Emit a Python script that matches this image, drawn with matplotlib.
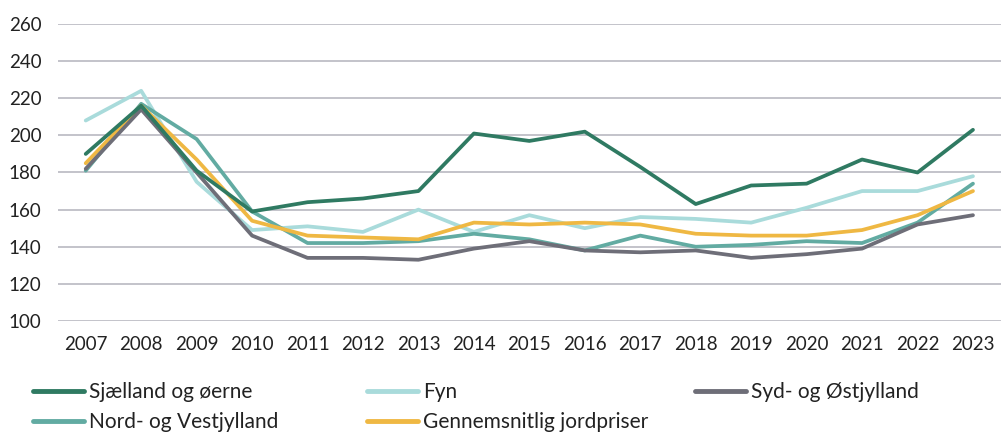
import matplotlib
matplotlib.use("Agg")
import matplotlib.pyplot as plt
import numpy as np

years = [str(y) for y in range(2007, 2024)]
sjaelland = [190, 216, 181, 159, 164, 166, 170, 201, 197, 202, 183, 163, 173, 174, 187, 180, 203]
fyn = [208, 224, 175, 149, 151, 148, 160, 148, 157, 150, 156, 155, 153, 161, 170, 170, 178]
syd = [182, 214, 180, 146, 134, 134, 133, 139, 143, 138, 137, 138, 134, 136, 139, 152, 157]
nord = [181, 217, 198, 159, 142, 142, 143, 147, 144, 138, 146, 140, 141, 143, 142, 153, 174]
gennemsnit = [185, 216, 187, 154, 146, 145, 144, 153, 152, 153, 152, 147, 146, 146, 149, 157, 170]

labels = ["Sjælland og øerne", "Fyn", "Syd- og Østjylland", "Nord- og Vestjylland", "Gennemsnitlig jordpriser"]
colors = ["#2f7a62", "#a9dbdb", "#6e6e78", "#62aba2", "#efb843"]
series = [sjaelland, fyn, syd, nord, gennemsnit]
yticks = [100, 120, 140, 160, 180, 200, 220, 240, 260]

plt.rcParams['font.family'] = ['Lato', 'DejaVu Sans']

fig = plt.figure(figsize=(10.06, 4.36), dpi=100)
ax = fig.add_axes([58 / 1006, 1 - 321 / 436, (1000.7 - 58) / 1006, (321 - 24) / 436])

x = np.arange(len(years))
order = [1, 3, 4, 2, 0]
handles = {}
for i in order:
    ln, = ax.plot(x, series[i], color=colors[i], lw=2.7, solid_capstyle='round', solid_joinstyle='round', zorder=3)
    handles[i] = ln

ax.set_xlim(-0.5, len(years) - 0.5)
ax.set_ylim(100, 260)
ax.set_yticks(yticks)
ax.set_xticks(x)
ax.set_xticklabels(years)
ax.grid(axis='y', color='#c3c3ca', lw=1.4)
ax.set_axisbelow(True)
for s in ax.spines.values():
    s.set_visible(False)
ax.tick_params(axis='both', length=0, labelsize=13.5, colors='#222222')
ax.tick_params(axis='y', pad=12)
ax.tick_params(axis='x', pad=11)

cols = [[0, 3], [1, 4], [2]]
xpos = [33, 367, 695]
for c, xp in zip(cols, xpos):
    leg = fig.legend([handles[i] for i in c], [labels[i] for i in c],
                     loc='upper left', bbox_to_anchor=(xp / 1006, 1 - 382 / 436),
                     frameon=False, fontsize=15, handlelength=2.45, handletextpad=0.25,
                     borderpad=0, borderaxespad=0, labelspacing=0.5)
    for t in leg.get_texts():
        t.set_color('#222222')
    for l in leg.get_lines():
        l.set_linewidth(3.5)

fig.savefig("out.png", dpi=100)
